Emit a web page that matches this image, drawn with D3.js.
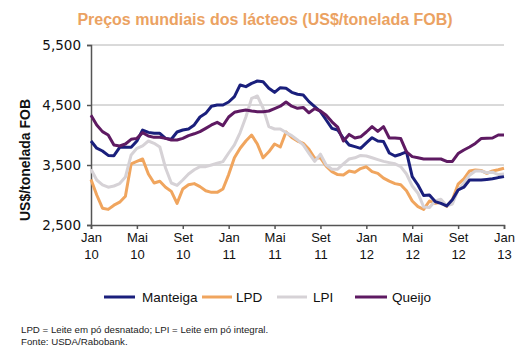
<!DOCTYPE html>
<html><head><meta charset="utf-8">
<script src="https://cdn.jsdelivr.net/npm/d3@7"></script>
<style>
body{margin:0;background:#fff;}
svg{display:block;}
</style></head>
<body>
<svg id="chart" width="530" height="355"></svg>
<script>
// Half-monthly observations, Jan 2010 - Jan 2013 (73 points)
const monthLabels = ["Jan","Mai","Set","Jan","Mai","Set","Jan","Mai","Set","Jan"];
const yearLabels  = ["10","10","10","11","11","11","12","12","12","13"];
const tickMonths  = [0,4,8,12,16,20,24,28,32,36];
const yTicks = [2500,3500,4500,5500];
const seriesNames = ["Manteiga","LPD","LPI","Queijo"];

const manteiga = [3900,3780,3733,3660,3656,3794,3794,3794,3900,4083,4044,4028,4028,3944,3930,4050,4083,4100,4167,4300,4361,4480,4500,4500,4550,4639,4834,4806,4861,4900,4889,4778,4711,4789,4778,4711,4680,4667,4556,4473,4389,4250,4111,4083,3945,3834,3806,3778,3870,3955,3900,3890,3700,3650,3680,3720,3306,3167,2990,3000,2890,2860,2817,2920,3083,3130,3250,3250,3250,3260,3270,3290,3306];
const lpd = [3260,3000,2780,2760,2830,2880,2980,3520,3560,3600,3350,3200,3230,3130,3060,2860,3100,3170,3190,3140,3070,3044,3044,3100,3340,3620,3780,3900,4000,3850,3620,3720,3850,3800,4050,3960,3900,3860,3760,3610,3620,3480,3389,3340,3333,3400,3380,3440,3470,3389,3360,3280,3230,3190,3170,3070,2900,2806,2761,2900,2861,2880,2810,2920,3180,3270,3400,3417,3410,3361,3400,3420,3445];
const lpi = [3430,3250,3170,3130,3150,3190,3300,3667,3778,3820,3900,3861,3800,3450,3200,3160,3250,3350,3420,3472,3472,3500,3530,3556,3700,3834,4040,4300,4611,4650,4450,4139,4100,4100,4040,3990,3917,3834,3694,3560,3680,3500,3430,3430,3520,3600,3620,3660,3650,3620,3590,3560,3540,3520,3472,3350,3150,3030,2800,2790,2900,2930,2820,2850,3083,3200,3330,3400,3400,3370,3380,3340,3350];
const queijo = [4330,4167,4056,4000,3833,3817,3850,3928,3944,4039,3983,3961,3961,3944,3917,3917,3944,3990,4020,4056,4111,4167,4211,4156,4300,4378,4400,4417,4400,4389,4389,4400,4440,4480,4550,4480,4445,4460,4370,4440,4400,4330,4220,4130,3900,4010,3950,3970,4050,4140,4060,4140,3950,3950,3940,3720,3640,3620,3600,3600,3600,3600,3560,3560,3690,3750,3800,3860,3940,3945,3950,4000,4000];

const colors = {Manteiga:"#1a1f7c", LPD:"#f0a55e", LPI:"#d6d2d6", Queijo:"#5e1a62"};
const dataMap = {Manteiga:manteiga, LPD:lpd, LPI:lpi, Queijo:queijo};

const svg = d3.select("#chart");
const mLeft = 91, mRight = 504, mTop = 45, mBottom = 225;

const x = d3.scaleLinear().domain([0,36]).range([mLeft,mRight]);
const y = d3.scaleLinear().domain([2500,5500]).range([mBottom,mTop]);

// title
svg.append("text").attr("x",265).attr("y",25).attr("text-anchor","middle")
  .attr("font-family","Liberation Sans, Arial, sans-serif").attr("font-weight","bold")
  .attr("font-size","16px").attr("fill","#eba262")
  .text("Preços mundiais dos lácteos (US$/tonelada FOB)");

// gridlines
svg.append("g").selectAll("line").data(yTicks.filter(d=>d>2500)).join("line")
  .attr("x1",mLeft).attr("x2",mRight).attr("y1",d=>y(d)).attr("y2",d=>y(d))
  .attr("stroke","#b4b4b4").attr("stroke-width",1);

// y axis
const yAxis = svg.append("g").attr("transform",`translate(${mLeft},0)`)
  .call(d3.axisLeft(y).tickValues(yTicks).tickSize(4).tickPadding(6).tickFormat(d3.format(",")));
yAxis.select(".domain").attr("stroke","#555").attr("stroke-width",1.5);
yAxis.selectAll(".tick line").attr("stroke","#555").attr("stroke-width",1.5);
yAxis.selectAll("text").attr("font-family","DejaVu Sans, Verdana, sans-serif")
  .attr("font-size","13.5px").attr("fill","#111");

// x axis
const xAxis = svg.append("g").attr("transform",`translate(0,${mBottom})`)
  .call(d3.axisBottom(x).tickValues(tickMonths).tickSize(4).tickFormat(""));
xAxis.select(".domain").attr("stroke","#555").attr("stroke-width",1.5);
xAxis.selectAll(".tick line").attr("stroke","#555").attr("stroke-width",1.5);
xAxis.selectAll(".tick").each(function(d,i){
  const t = d3.select(this).append("text").attr("fill","#111")
    .attr("font-family","Liberation Sans, Arial, sans-serif").attr("font-size","13px")
    .attr("text-anchor","middle");
  t.append("tspan").attr("x",0).attr("y",17).text(monthLabels[i]);
  t.append("tspan").attr("x",0).attr("y",34).text(yearLabels[i]);
});

// y label
svg.append("text").attr("transform","translate(30,160) rotate(-90)")
  .attr("text-anchor","middle").attr("font-family","Liberation Sans, Arial, sans-serif")
  .attr("font-weight","bold").attr("font-size","14px").attr("fill","#111")
  .text("US$/tonelada FOB");

// lines
const line = d3.line().x((d,i)=>x(i/2)).y(d=>y(d));
["LPD","LPI","Manteiga","Queijo"].forEach(name=>{
  svg.append("path").datum(dataMap[name]).attr("d",line)
    .attr("fill","none").attr("stroke",colors[name]).attr("stroke-width",3)
    .attr("stroke-linejoin","round");
});

// legend
const legendItems = [
  {name:"Manteiga", x1:104, x2:135, tx:142},
  {name:"LPD", x1:202, x2:232, tx:236},
  {name:"LPI", x1:277, x2:307, tx:313},
  {name:"Queijo", x1:355, x2:387, tx:392}
];
const lg = svg.append("g");
legendItems.forEach(it=>{
  lg.append("line").attr("x1",it.x1).attr("x2",it.x2).attr("y1",297).attr("y2",297)
    .attr("stroke",colors[it.name]).attr("stroke-width",3);
  lg.append("text").attr("x",it.tx).attr("y",302)
    .attr("font-family","Liberation Sans, Arial, sans-serif").attr("font-size","13.5px")
    .attr("fill","#111").text(it.name);
});

// footnote
svg.append("text").attr("x",21).attr("y",333)
  .attr("font-family","Liberation Sans, Arial, sans-serif").attr("font-size","9.7px").attr("fill","#222")
  .text("LPD = Leite em pó desnatado; LPI = Leite em pó integral.");
svg.append("text").attr("x",21).attr("y",345)
  .attr("font-family","Liberation Sans, Arial, sans-serif").attr("font-size","9.7px").attr("fill","#222")
  .text("Fonte: USDA/Rabobank.");
</script>
</body></html>
